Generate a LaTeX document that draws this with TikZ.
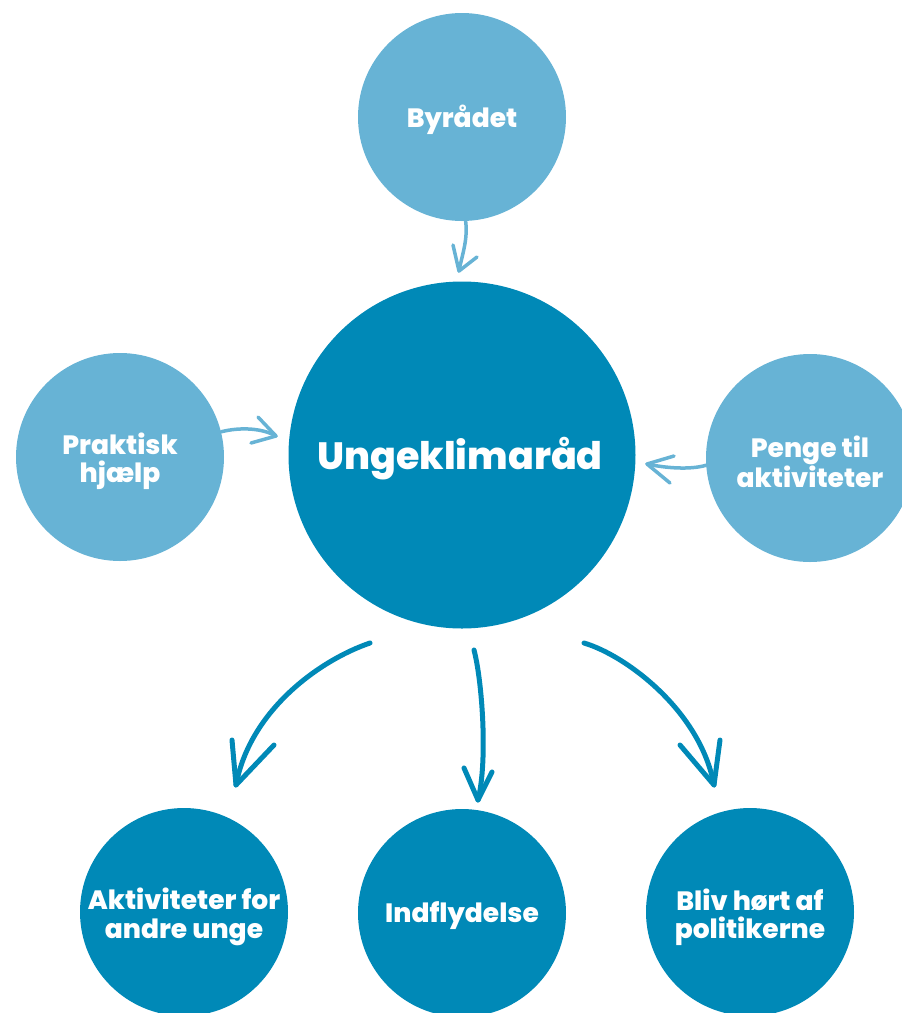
\documentclass[tikz,border=0pt]{standalone}
\usepackage{fontspec}
\setmainfont{Poppins}[BoldFont={Poppins ExtraBold}]
\definecolor{lightb}{RGB}{103,179,213}
\definecolor{darkb}{RGB}{0,137,183}
\begin{document}
\begin{tikzpicture}[x=1pt,y=-1pt,
  small/.style={circle,fill=lightb,minimum size=208pt,inner sep=0pt},
  big/.style={circle,fill=darkb,minimum size=208pt,inner sep=0pt},
  lbl/.style={text=white,font=\bfseries\fontsize{26.5}{28.5}\selectfont,align=center},
  larr/.style={draw=lightb,line width=3.5pt,line cap=round,line join=round},
  darr/.style={draw=darkb,line width=5pt,line cap=round,line join=round}]
\useasboundingbox (0,0) rectangle (902,1013);
\clip (0,0) rectangle (902,1013);
% nodes
\node[small] (byr) at (462,117) {};
\node[lbl] (byrt) at (462,120) {Byrådet};
\node[circle,fill=darkb,minimum size=347pt,inner sep=0pt] (main) at (462,455) {};
\node[text=white,font=\bfseries\fontsize{38}{40}\selectfont] (maint) at (460,459) {Ungeklimaråd};
\node[small] (prak) at (120,457) {};
\node[lbl] (prakt) at (120,461) {Praktisk\\hjælp};
\node[small] (penge) at (810,458) {};
\node[lbl] (penget) at (810,462) {Penge til\\aktiviteter};
\node[big] (akt) at (184,912) {};
\node[lbl] (aktt) at (184,917) {Aktiviteter for\\andre unge};
\node[big] (ind) at (462,913) {};
\node[lbl] (indt) at (462,916) {Indflydelse};
\node[big] (bliv) at (750,912) {};
\node[lbl] (blivt) at (750,917) {Bliv hørt af\\politikerne};
% arrow coordinates
\coordinate (t1) at (459,271);
\coordinate (t2) at (276,436);
\coordinate (t3) at (647,464);
\coordinate (s4) at (370,643);
\coordinate (t4) at (236,785);
\coordinate (s5) at (474,650);
\coordinate (t5) at (478,800);
\coordinate (s6) at (584,643);
\coordinate (t6) at (714,785);
% light arrows
\draw[larr] (byr.-88) .. controls (468,240) and (462,255) .. (t1);
\draw[larr] (t1) ++(-6,-26) -- (t1) -- ++(18,-14);
\draw[larr] (prak.14) .. controls (240,427) and (262,428) .. (t2);
\draw[larr] (t2) ++(-18,-19) -- (t2) -- ++(-25,7);
\draw[larr] (penge.184) .. controls (690,470) and (665,468) .. (t3);
\draw[larr] (t3) ++(27,-8) -- (t3) -- ++(23,19);
% dark arrows
\draw[darr] (s4) .. controls (320,660) and (250,710) .. (t4);
\draw[darr] (t4) ++(-4,-45) -- (t4) -- ++(38,-40);
\draw[darr] (s5) .. controls (482,680) and (488,760) .. (t5);
\draw[darr] (t5) ++(-14,-32) -- (t5) -- ++(14,-28);
\draw[darr] (s6) .. controls (625,655) and (700,710) .. (t6);
\draw[darr] (t6) ++(-34,-40) -- (t6) -- ++(6,-45);
\end{tikzpicture}
\end{document}
